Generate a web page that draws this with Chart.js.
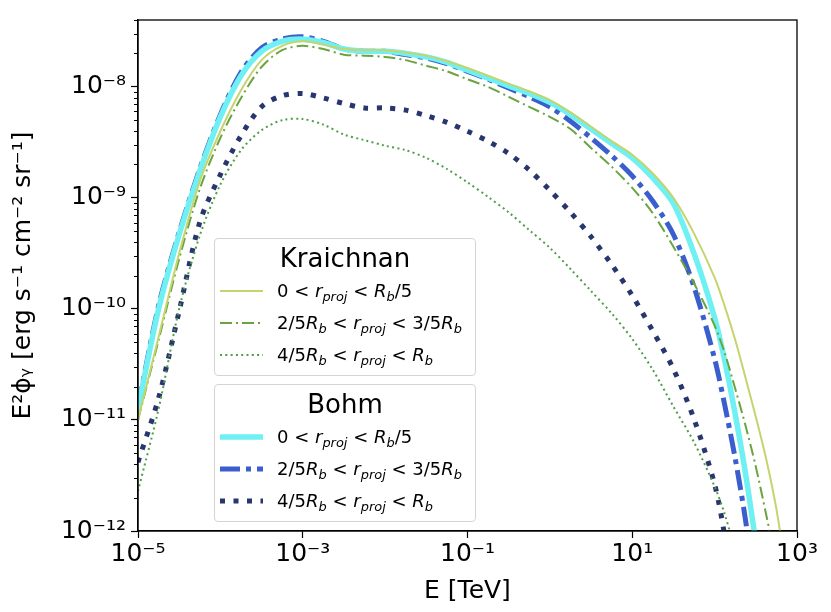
<!DOCTYPE html>
<html>
<head>
<meta charset="utf-8">
<script src="https://cdn.jsdelivr.net/npm/chart.js@4.4.1/dist/chart.umd.min.js"></script>
<style>
  html, body { margin: 0; padding: 0; background: #fff; }
  #wrap { position: relative; width: 831px; height: 612px; font-family: "DejaVu Sans", sans-serif; color: #000; }
  #c { position: absolute; left: 0; top: 0; }
  .leg { position: absolute; left: 214px; width: 262px; height: 138px; box-sizing: border-box;
         border: 1px solid #d4d4d4; border-radius: 4px; background: rgba(255,255,255,0.85); }
  .leg .ttl { position: absolute; left: 0; right: 0; text-align: center; font-size: 26px; line-height: 26px; }
  .leg svg { position: absolute; left: 5px; }
  .leg .txt { position: absolute; left: 62px; white-space: nowrap; font-size: 18px; line-height: 18px; }
  .leg sub { font-size: 0.72em; vertical-align: -0.32em; line-height: 0; }
</style>
</head>
<body>
<div id="wrap">
  <canvas id="c" width="831" height="612"></canvas>
</div>
<script>
// energia (TeV) comune a tutte le curve
var energy = [1e-5, 1.78e-5, 3.16e-5, 5.62e-5, 1e-4, 1.78e-4, 3.16e-4, 5.62e-4, 1e-3, 1.78e-3,
              3.16e-3, 5.62e-3, 0.01, 0.0178, 0.0316, 0.0562, 0.1, 0.178, 0.316, 0.562,
              1, 1.78, 3.16, 5.62, 10, 17.8, 31.6, 56.2, 100, 133,
              178, 237, 316, 422, 562, 750, 1000];

// Kraichnan
var kraichnanInner = [1.00e-11, 5.62e-11, 3.16e-10, 1.41e-9, 3.98e-9, 9.33e-9, 1.74e-8, 2.34e-8, 2.57e-8, 2.40e-8,
                      2.19e-8, 2.14e-8, 2.14e-8, 2.04e-8, 1.91e-8, 1.70e-8, 1.48e-8, 1.26e-8, 1.07e-8, 9.12e-9,
                      7.59e-9, 5.89e-9, 4.37e-9, 3.24e-9, 2.45e-9, 1.66e-9, 1.00e-9, 4.79e-10, 1.91e-10, 1.05e-10,
                      5.25e-11, 2.40e-11, 1.07e-11, 4.47e-12, 1.58e-12, 3.98e-13, null];
var kraichnanMid = [1.00e-11, 5.25e-11, 2.82e-10, 1.20e-9, 3.47e-9, 7.94e-9, 1.51e-8, 2.14e-8, 2.34e-8, 2.19e-8,
                    1.95e-8, 1.91e-8, 1.86e-8, 1.74e-8, 1.55e-8, 1.38e-8, 1.17e-8, 1.00e-8, 8.13e-9, 6.61e-9,
                    5.37e-9, 4.17e-9, 2.82e-9, 1.91e-9, 1.23e-9, 7.24e-10, 3.63e-10, 1.70e-10, 7.08e-11, 3.98e-11,
                    1.91e-11, 8.91e-12, 3.80e-12, 1.41e-12, 5.01e-13, null, null];
var kraichnanOuter = [2.29e-12, 1.26e-11, 1.00e-10, 4.57e-10, 1.32e-9, 2.69e-9, 4.07e-9, 5.01e-9, 5.13e-9, 4.57e-9,
                      3.72e-9, 3.31e-9, 2.95e-9, 2.69e-9, 2.29e-9, 1.82e-9, 1.38e-9, 1.02e-9, 7.41e-10, 5.13e-10,
                      3.55e-10, 2.29e-10, 1.45e-10, 9.12e-11, 5.37e-11, 2.82e-11, 1.32e-11, 6.31e-12, 2.51e-12, 1.41e-12,
                      6.31e-13, 2.00e-13, null, null, null, null, null];

// Bohm
var bohmInner = [1.26e-11, 1.00e-10, 4.68e-10, 1.74e-9, 5.37e-9, 1.26e-8, 2.09e-8, 2.57e-8, 2.69e-8, 2.51e-8,
                 2.19e-8, 2.09e-8, 2.09e-8, 2.00e-8, 1.86e-8, 1.66e-8, 1.41e-8, 1.20e-8, 1.02e-8, 8.71e-9,
                 7.24e-9, 5.62e-9, 4.17e-9, 3.09e-9, 2.29e-9, 1.51e-9, 8.91e-10, 3.16e-10, 8.32e-11, 3.39e-11,
                 1.12e-11, 3.31e-12, 7.94e-13, null, null, null, null];
var bohmMid = [1.32e-11, 1.07e-10, 4.90e-10, 1.82e-9, 5.62e-9, 1.35e-8, 2.24e-8, 2.69e-8, 2.82e-8, 2.57e-8,
               2.19e-8, 2.09e-8, 2.09e-8, 1.95e-8, 1.82e-8, 1.62e-8, 1.38e-8, 1.17e-8, 9.77e-9, 8.13e-9,
               6.61e-9, 4.90e-9, 3.47e-9, 2.40e-9, 1.58e-9, 9.33e-10, 4.68e-10, 1.58e-10, 3.55e-11, 1.35e-11,
               4.47e-12, 1.26e-12, 2.51e-13, null, null, null, null];
var bohmOuter = [4.17e-12, 1.58e-11, 9.55e-11, 6.03e-10, 1.62e-9, 3.63e-9, 6.61e-9, 8.32e-9, 8.71e-9, 7.94e-9,
                 7.08e-9, 6.46e-9, 6.46e-9, 6.17e-9, 5.50e-9, 4.79e-9, 3.98e-9, 3.24e-9, 2.51e-9, 1.78e-9,
                 1.17e-9, 7.41e-10, 4.47e-10, 2.51e-10, 1.32e-10, 6.31e-11, 2.88e-11, 1.02e-11, 2.63e-12, 8.91e-13,
                 2.00e-13, null, null, null, null, null, null];

var xTickValues = [1e-5, 1e-3, 1e-1, 1e1, 1e3];
var xTickLabels = ['10\u207B\u2075', '10\u207B\u00B3', '10\u207B\u00B9', '10\u00B9', '10\u00B3'];
var yTickValues = [1e-12, 1e-11, 1e-10, 1e-9, 1e-8];
var yTickLabels = ['10\u207B\u00B9\u00B2', '10\u207B\u00B9\u00B9', '10\u207B\u00B9\u2070', '10\u207B\u2079', '10\u207B\u2078'];
var yMinorSteps = [2, 3, 4, 5, 6, 7, 8, 9];

var seriesLabels = ['0 < r_proj < R_b/5', '2/5R_b < r_proj < 3/5R_b', '4/5R_b < r_proj < R_b'];
var legendHtml = [
    '0 &lt; <i>r</i><sub><i>proj</i></sub> &lt; <i>R</i><sub><i>b</i></sub>/5',
    '2/5<i>R</i><sub><i>b</i></sub> &lt; <i>r</i><sub><i>proj</i></sub> &lt; 3/5<i>R</i><sub><i>b</i></sub>',
    '4/5<i>R</i><sub><i>b</i></sub> &lt; <i>r</i><sub><i>proj</i></sub> &lt; <i>R</i><sub><i>b</i></sub>'
];

var _points = function(ys) {
    return energy.map(function(e, i) { return { x: e, y: ys[i] }; });
};

var datasets = [{
    label: seriesLabels[0], data: _points(kraichnanInner),
    borderColor: '#c5d46e', borderWidth: 2, borderDash: []
}, {
    label: seriesLabels[1], data: _points(kraichnanMid),
    borderColor: '#6aa43f', borderWidth: 2, borderDash: [12, 4, 2, 4]
}, {
    label: seriesLabels[2], data: _points(kraichnanOuter),
    borderColor: '#4e9d48', borderWidth: 2, borderDash: [2, 3.3]
}, {
    label: seriesLabels[0], data: _points(bohmInner),
    borderColor: '#6ff0f2', borderWidth: 5.5, borderDash: []
}, {
    label: seriesLabels[1], data: _points(bohmMid),
    borderColor: '#3a5fcd', borderWidth: 5, borderDash: [20, 6, 5, 6]
}, {
    label: seriesLabels[2], data: _points(bohmOuter),
    borderColor: '#28366e', borderWidth: 5, borderDash: [5, 8.5]
}];

var _labelFor = function(values, labels, v) {
    for (var i = 0; i < values.length; i++) {
        if (Math.abs(Math.log10(values[i]) - Math.log10(v)) < 1e-6) return labels[i];
    }
    return '';
};

// tacche minori sull'asse y
var minorTicks = {
    id: 'minorTicks',
    afterDraw: function(chart) {
        var y = chart.scales.y, ctx = chart.ctx, left = chart.chartArea.left;
        ctx.save();
        ctx.strokeStyle = '#000';
        ctx.lineWidth = 1;
        yTickValues.forEach(function(dec) {
            yMinorSteps.forEach(function(m) {
                var v = m * dec;
                if (v > y.max) return;
                var py = Math.round(y.getPixelForValue(v)) + 0.5;
                ctx.beginPath();
                ctx.moveTo(left - 4, py);
                ctx.lineTo(left, py);
                ctx.stroke();
            });
        });
        ctx.restore();
    }
};

// cornice completa
var frame = {
    id: 'frame',
    afterDraw: function(chart) {
        var a = chart.chartArea, ctx = chart.ctx;
        ctx.save();
        ctx.strokeStyle = '#000';
        ctx.lineWidth = 1.3;
        ctx.strokeRect(a.left, a.top, a.right - a.left, a.bottom - a.top);
        ctx.restore();
    }
};

var tickFont = { family: 'DejaVu Sans', size: 25 };
var titleFont = { family: 'DejaVu Sans', size: 25 };

var chart = new Chart(document.getElementById('c').getContext('2d'), {
    type: 'line',
    data: { datasets: datasets },
    options: {
        responsive: false,
        animation: false,
        layout: { padding: { top: 11, right: 34, left: 0, bottom: 0 } },
        plugins: { legend: { display: false }, tooltip: { enabled: false } },
        elements: {
            point: { radius: 0 },
            line: { tension: 0.3, borderCapStyle: 'butt', fill: false }
        },
        scales: {
            x: {
                type: 'logarithmic', min: 1e-5, max: 1e3,
                afterBuildTicks: function(s) { s.ticks = xTickValues.map(function(v) { return { value: v }; }); },
                afterFit: function(s) { s.height = 81; },
                ticks: {
                    autoSkip: false, maxRotation: 0, color: '#000', font: tickFont, padding: 1,
                    callback: function(v) { return _labelFor(xTickValues, xTickLabels, v); }
                },
                grid: { drawOnChartArea: false, drawTicks: true, tickLength: 7, color: '#000', tickWidth: 1.2 },
                border: { display: true, color: '#000', width: 1.3 },
                title: { display: true, text: 'E [TeV]', color: '#000', font: titleFont, padding: { top: 0, bottom: 6 } }
            },
            y: {
                type: 'logarithmic', min: 1e-12, max: 4e-8,
                afterBuildTicks: function(s) { s.ticks = yTickValues.map(function(v) { return { value: v }; }); },
                afterFit: function(s) { s.width = 138; },
                ticks: {
                    autoSkip: false, color: '#000', font: tickFont, padding: 5,
                    callback: function(v) { return _labelFor(yTickValues, yTickLabels, v); }
                },
                grid: { drawOnChartArea: false, drawTicks: true, tickLength: 7, color: '#000', tickWidth: 1.2 },
                border: { display: true, color: '#000', width: 1.3 },
                title: { display: true, text: 'E\u00B2\u03D5\u1D67 [erg s\u207B\u00B9 cm\u207B\u00B2 sr\u207B\u00B9]',
                         color: '#000', font: titleFont, padding: { top: 8, bottom: 0 } }
            }
        }
    },
    plugins: [minorTicks, frame]
});

// legende HTML costruite dai dataset
var legendGroups = [
    { title: 'Kraichnan', top: 238, first: 0 },
    { title: 'Bohm', top: 384, first: 3 }
];
var wrap = document.getElementById('wrap');
legendGroups.forEach(function(g) {
    var box = document.createElement('div');
    box.className = 'leg';
    box.style.top = g.top + 'px';
    var ttl = document.createElement('div');
    ttl.className = 'ttl';
    ttl.style.top = '6px';
    ttl.textContent = g.title;
    box.appendChild(ttl);
    for (var r = 0; r < 3; r++) {
        var ds = chart.data.datasets[g.first + r];
        var cy = 52 + r * 32;
        var svg = document.createElementNS('http://www.w3.org/2000/svg', 'svg');
        svg.setAttribute('width', '44');
        svg.setAttribute('height', '12');
        svg.style.top = (cy - 6) + 'px';
        var ln = document.createElementNS('http://www.w3.org/2000/svg', 'line');
        ln.setAttribute('x1', '0'); ln.setAttribute('x2', '43');
        ln.setAttribute('y1', '6'); ln.setAttribute('y2', '6');
        ln.setAttribute('stroke', ds.borderColor);
        ln.setAttribute('stroke-width', ds.borderWidth);
        if (ds.borderDash.length) ln.setAttribute('stroke-dasharray', ds.borderDash.join(' '));
        svg.appendChild(ln);
        box.appendChild(svg);
        var txt = document.createElement('div');
        txt.className = 'txt';
        txt.style.top = (cy - 9) + 'px';
        txt.innerHTML = legendHtml[r];
        box.appendChild(txt);
    }
    wrap.appendChild(box);
});
</script>
</body>
</html>
